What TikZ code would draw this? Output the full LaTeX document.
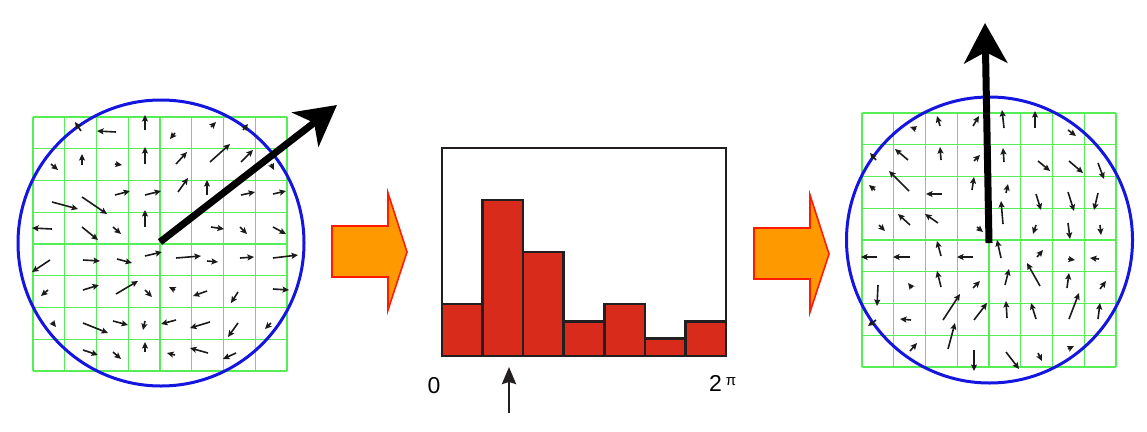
\documentclass[tikz,border=0pt]{standalone}
\usepackage{fontspec}
\setmainfont{Liberation Sans}
\usepackage{xcolor}
\definecolor{cRing}{HTML}{1515E0}
\definecolor{cGrid}{HTML}{55EE55}
\definecolor{cVec}{HTML}{1A1A1A}
\definecolor{cOrange}{HTML}{FF9900}
\definecolor{cEdge}{HTML}{FF1A00}
\definecolor{cBar}{HTML}{D92B1B}
\definecolor{cDark}{HTML}{231F20}
\usepackage{tikz}
\usetikzlibrary{positioning,arrows.meta}
\tikzset{
  grid-line/.style={draw=cGrid,line width=1.4pt},
  ring/.style={draw=cRing,line width=3pt},
  vec-small/.style={-{Stealth[length=6.5pt,width=6pt,inset=1.2pt]},line width=1.6pt,draw=cVec},
  vec-main/.style={-{Stealth[length=40pt,width=43pt,inset=11pt]},line width=7pt,draw=black},
  vec-pointer/.style={-{Stealth[length=17pt,width=14pt,inset=2pt]},line width=2.5pt,draw=cDark},
  block-arrow/.style={fill=cOrange,draw=cEdge,line width=1.6pt,line join=miter},
  hist-bar/.style={fill=cBar,draw=cDark,line width=2.6pt},
  hist-box/.style={draw=cDark,line width=2.6pt},
  label-text/.style={inner sep=0pt,font=\fontsize{23}{27}\selectfont},
}

\begin{document}
\begin{tikzpicture}[x=1pt,y=-1pt]
  \useasboundingbox (0,0) rectangle (1147,431);
  % patch grids, 8x8 cells
  \foreach \gx/\gy in {33/117, 862/113} {
    \foreach \i in {0,...,8} {
      \draw[grid-line] ({\gx+\i*31.75},\gy) -- ({\gx+\i*31.75},{\gy+254});
      \draw[grid-line] (\gx,{\gy+\i*31.75}) -- ({\gx+254},{\gy+\i*31.75});
    }
  }
  \coordinate (lc) at (161,243);
  \coordinate (rc) at (989.5,240);
  \draw[ring] (lc) circle[radius=143];
  \draw[ring] (rc) circle[radius=143];
  % gradient samples, left patch
  \foreach \xa/\ya/\xb/\yb in {81/131/75/122, 116/132/97/131, 145/130/145/115,
    175/133/170/139, 211/127/216/122, 243/130/248/124,
    51/164/58/170, 82/165/82/154, 115/164/122/165, 145/164/145/147,
    176/164/187/152, 210/162/230/144, 241/162/253/150, 271/164/274/170,
    52/202/78/209, 82/197/107/214, 115/195/130/191, 145/195/161/191,
    178/192/188/178, 207/195/207/180, 241/195/255/192, 273/194/286/191,
    52/229/32/228, 82/227/98/240, 113/227/121/234, 145/227/145/210,
    211/227/224/229, 240/227/247/234, 273/227/286/234,
    50/260/32/272, 83/260/100/261, 117/259/132/263, 145/256/162/252,
    176/258/201/256, 207/261/218/262, 240/258/254/257, 273/258/298/255,
    48/290/41/296, 83/290/99/285, 116/294/138/281, 145/290/152/297,
    175/290/169/287, 207/291/193/296, 238/292/231/303, 273/289/289/290,
    52/322/56/327, 83/323/108/333, 113/321/128/325, 145/321/143/330,
    176/320/161/324, 210/322/190/328, 238/323/228/337, 271/323/265/329,
    83/350/98/355, 113/352/121/359, 145/352/145/342, 175/355/167/353,
    208/353/190/348, 236/353/223/359}
    \draw[vec-small] (\xa,\ya) -- (\xb,\yb);
  % gradient samples, right patch
  \foreach \xa/\ya/\xb/\yb in {916/129/910/127, 940/126/937/116, 973/126/979/116,
    1004/128/1002/110, 1035/128/1035/111, 1068/130/1076/136,
    876/160/870/153, 908/160/895/149, 941/160/940/147, 974/161/980/155,
    1004/162/1003/148, 1038/161/1050/171, 1069/161/1083/173, 1098/163/1104/179,
    875/190/869/185, 909/191/889/171, 942/194/926/194, 972/190/974/177,
    1006/193/1008/184, 1036/194/1041/210, 1068/192/1074/211, 1098/193/1094/210,
    879/225/885/231, 910/225/898/214, 938/223/925/214, 977/227/983/232,
    1003/224/1001/201, 1036/225/1033/234, 1068/223/1070/239, 1100/225/1101/235,
    877/257/861/257, 910/257/893/257, 941/256/937/241, 973/257/957/257,
    1001/258/997/240, 1037/257/1043/250, 1068/259/1075/260, 1099/259/1090/258,
    878/285/877/306, 912/288/908/283, 941/287/937/271, 973/288/980/281,
    1005/285/1009/269, 1040/286/1027/263, 1067/288/1069/273, 1100/289/1106/281,
    876/320/868/326, 911/320/900/319, 943/320/960/294, 974/320/987/303,
    1007/318/1006/301, 1036/319/1031/303, 1069/319/1079/293, 1098/319/1100/303,
    910/351/917/343, 948/349/955/323, 974/350/974/371,
    1006/352/1019/369, 1038/353/1042/361, 1068/349/1074/346}
    \draw[vec-small] (\xa,\ya) -- (\xb,\yb);
  % dominant orientations
  \coordinate (lt) at (337,105);
  \coordinate (rt) at (985,23);
  \draw[vec-main] (160,242) -- (lt);
  \draw[vec-main] (989,243) -- (rt);
  % block arrows
  \foreach \x/\y in {332/226, 754/228}
    \draw[block-arrow] (\x,\y) -- ++(56,0) -- ++(0,-33) -- ++(19,59)
      -- ++(-19,58) -- ++(0,-33) -- ++(-56,0) -- cycle;
  % orientation histogram
  \foreach \h [count=\i from 0] in {3,9,6,2,3,1,2}
    \draw[hist-bar] ({442+\i*40.57},356) rectangle ({442+(\i+1)*40.57},{356-\h*17.33});
  \draw[hist-box] (442,148) rectangle (726,356);
  \node[label-text] (zero) at (434,386) {0};
  \node[label-text,anchor=west] (twopi) at (709,383)
    {2\,\raisebox{6pt}{\fontsize{15}{17}\selectfont π}};
  \coordinate (peak) at (509,367);
  \draw[vec-pointer] (509,413) -- (peak);
\end{tikzpicture}
\end{document}
